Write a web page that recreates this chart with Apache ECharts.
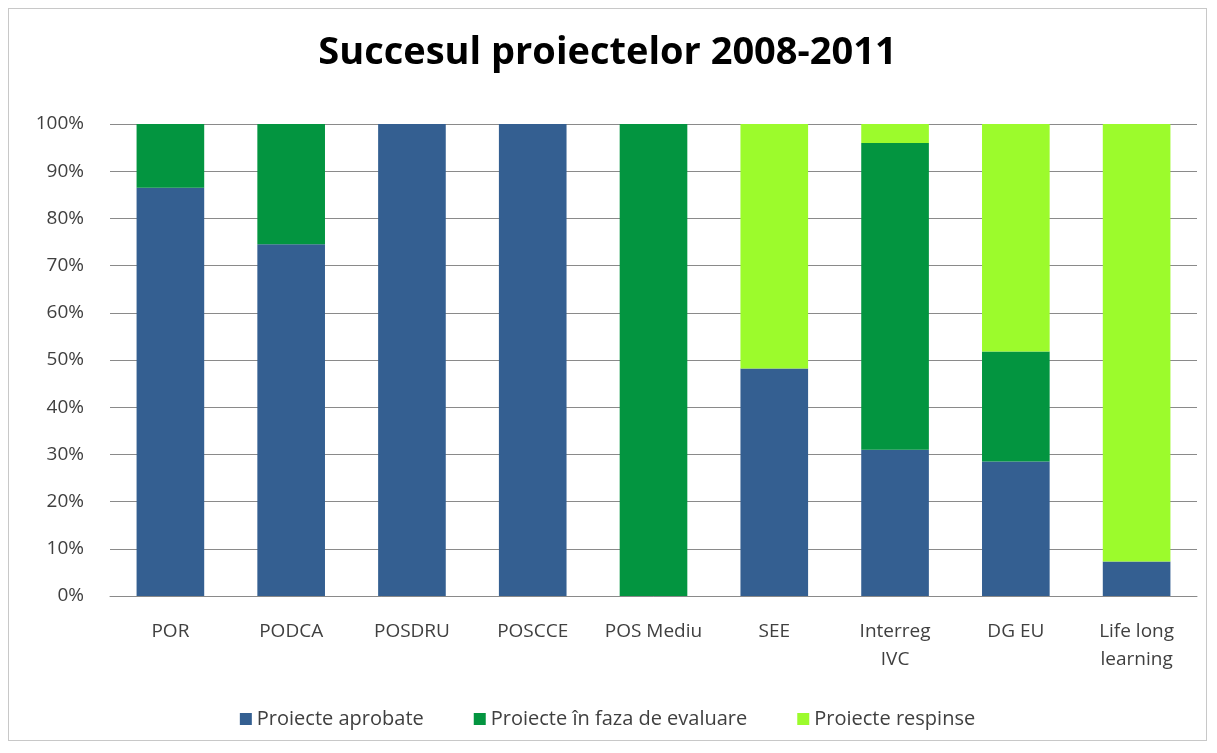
<!DOCTYPE html>
<html><head><meta charset="utf-8">
<script src="https://cdn.jsdelivr.net/npm/echarts@6/dist/echarts.min.js"></script>
<style>html,body{margin:0;padding:0;background:#fff;}#c{position:absolute;left:8px;top:8px;width:1199px;height:733px;border:1px solid #c8c8c8;box-sizing:border-box;}</style>
</head><body><div id="c"></div>
<script>
const categories = ['POR','PODCA','POSDRU','POSCCE','POS Mediu','SEE','Interreg\nIVC','DG EU','Life long\nlearning'];
const aprobate   = [86.5, 74.5, 100, 100, 0, 48.2, 31.0, 28.5, 7.3];
const evaluare   = [13.5, 25.5, 0, 0, 100, 0, 65.0, 23.3, 0];
const respinse   = [0, 0, 0, 0, 0, 51.8, 4.0, 48.2, 92.7];
const seriesNames = ['Proiecte aprobate','Proiecte în faza de evaluare','Proiecte respinse'];
const colors = ['#345f91','#039540','#9cfb2c'];
const font = "'Open Sans', 'Liberation Sans', sans-serif";
const chart = echarts.init(document.getElementById('c'));
const mk = (name, data, i) => ({name, type:'bar', stack:'t', data, barCategoryGap:'44%', itemStyle:{color:colors[i]}});
chart.setOption({
  animation:false,
  title:{text:'Succesul proiectelor 2008-2011', left:'center', top:20, textStyle:{fontFamily:font, fontSize:38, fontWeight:'bold', color:'#000'}},
  legend:{bottom:6, left:'center', itemWidth:12, itemHeight:12, itemGap:50, icon:'rect', textStyle:{fontFamily:font, fontSize:20, color:'#404040'}},
  grid:{left:101, right:9, top:115, bottom:144, containLabel:false},
  xAxis:{type:'category', data:categories, axisTick:{show:false}, axisLine:{lineStyle:{color:'#8a8a8a'}}, axisLabel:{fontFamily:font, fontSize:19, color:'#404040', margin:22, lineHeight:28, interval:0}},
  yAxis:{type:'value', min:0, max:100, interval:10, axisLabel:{formatter:'{value}%', fontFamily:font, fontSize:19, color:'#404040', margin:26}, splitLine:{lineStyle:{color:'#8a8a8a'}}, axisLine:{show:false}},
  series:[mk(seriesNames[0], aprobate, 0), mk(seriesNames[1], evaluare, 1), mk(seriesNames[2], respinse, 2)]
});
</script></body></html>
